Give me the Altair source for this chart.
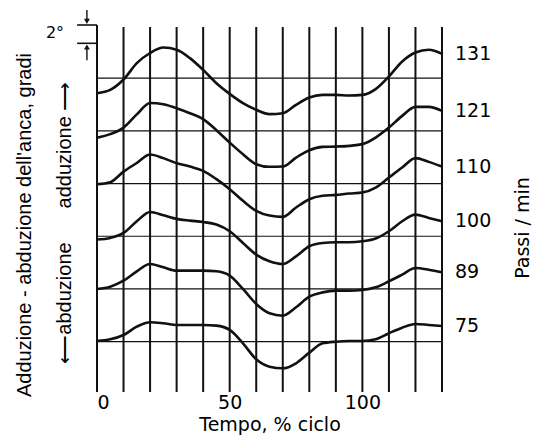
import altair as alt
import pandas as pd

# ---- data (degrees relative to each trace's baseline) ----
x_pct = [0, 5, 10, 15, 20, 25, 30, 35, 40, 45, 50, 55, 60, 65, 70, 75, 80, 85, 90, 95, 100, 105, 110, 115, 120, 125, 130]

cadences = [131, 121, 110, 100, 89, 75]

v131 = [-1.64, -1.28, -0.15, 1.64, 2.75, 3.35, 3.1, 2.19, 0.9, -0.55, -1.72, -2.73, -3.46, -3.93, -3.83, -2.92, -2.12, -1.83, -1.83, -1.9, -1.83, -1.2, 0.18, 1.82, 2.8, 3.1, 2.66]
v121 = [-0.75, -0.36, 0.35, 1.8, 3.05, 2.9, 2.48, 1.93, 1.28, 0.07, -1.28, -2.55, -3.64, -3.93, -3.9, -2.92, -2.11, -1.75, -1.72, -1.64, -1.45, -0.73, 0.36, 1.64, 2.62, 2.62, 2.19]
v110 = [-0.07, 0.15, 1.3, 2.25, 3.18, 2.78, 2.23, 1.86, 1.39, 0.48, -0.61, -1.89, -2.98, -3.5, -3.64, -2.62, -1.71, -1.34, -1.24, -1.09, -0.98, -0.44, 0.66, 1.75, 2.78, 2.37, 1.86]
v100 = [-0.36, -0.18, 0.36, 1.64, 2.66, 2.3, 1.9, 1.71, 1.56, 1.28, 0.55, -0.73, -2.0, -2.73, -3.03, -2.19, -1.09, -0.73, -0.66, -0.66, -0.55, -0.25, 0.55, 1.64, 2.37, 2.0, 1.64]
v89 = [0.0, 0.25, 0.9, 1.93, 2.73, 2.37, 2.0, 2.0, 2.0, 1.93, 1.46, 0.0, -1.64, -2.66, -2.92, -2.0, -0.84, -0.37, -0.18, -0.18, -0.11, 0.18, 0.84, 1.56, 2.3, 2.11, 1.82]
v75 = [0.08, 0.26, 0.73, 1.64, 2.12, 2.01, 1.83, 1.83, 1.83, 1.75, 1.28, -0.18, -1.92, -2.73, -2.91, -2.36, -1.2, -0.18, 0.0, 0.07, 0.07, 0.26, 0.92, 1.53, 1.93, 1.83, 1.72]

series = [v131, v121, v110, v100, v89, v75]

grid_x = list(range(0, 131, 10))
x_ticks = [0, 50, 100]

# ---- layout constants ----
SPACING = 5.76          # vertical offset between traces (degrees)
Y_MIN, Y_MAX = -5.5, 34.61
W, H = 345, 367
INK = "#111111"

rows = []
for i, (cad, vals) in enumerate(zip(cadences, series)):
    off = (len(cadences) - 1 - i) * SPACING
    for xv, v in zip(x_pct, vals):
        rows.append({"x": xv, "y": v + off, "cad": str(cad), "base": off})
df = pd.DataFrame(rows)

base_df = pd.DataFrame({"cad": [str(c) for c in cadences],
                        "base": [(len(cadences) - 1 - i) * SPACING for i in range(len(cadences))]})
end_df = df[df["x"] == x_pct[-1]].copy()

grid_df = pd.DataFrame({"x": grid_x,
                        "y1": [Y_MIN] * len(grid_x),
                        "y2": [Y_MAX if g == 0 else 34.39 for g in grid_x]})

xs = alt.Scale(domain=[0, 130], nice=False, zero=False)
ys = alt.Scale(domain=[Y_MIN, Y_MAX], nice=False, zero=False)

xaxis = alt.Axis(values=x_ticks, grid=False, domain=False, ticks=False, labelPadding=1,
                 labelFont="DejaVu Sans", labelFontSize=19, labelColor="black",
                 title="Tempo, % ciclo", titleFont="DejaVu Sans", titleFontSize=19,
                 titleFontWeight="normal", titleColor="black", titlePadding=3, labelAngle=0)

grid = alt.Chart(grid_df).mark_rule(color=INK, strokeWidth=2).encode(
    x=alt.X("x:Q", scale=xs, axis=xaxis),
    y=alt.Y("y1:Q", scale=ys, axis=None),
    y2="y2:Q",
)

baselines = alt.Chart(base_df).mark_rule(color=INK, strokeWidth=1.2).encode(
    x=alt.value(0), x2=alt.value(W),
    y=alt.Y("base:Q", scale=ys),
)

curves = alt.Chart(df).mark_line(color=INK, strokeWidth=2.6, interpolate="monotone").encode(
    x=alt.X("x:Q", scale=xs),
    y=alt.Y("y:Q", scale=ys),
    detail="cad:N",
)

end_labels = alt.Chart(end_df).mark_text(align="left", baseline="middle", dx=13,
                                         font="DejaVu Sans", fontSize=19, color="black").encode(
    x=alt.X("x:Q", scale=xs),
    y=alt.Y("y:Q", scale=ys),
    text="cad:N",
)

# ---- 2 degree scale bar ----
bar_df = pd.DataFrame({"x": [-7.5, -7.5], "x2": [0, 0], "y": [Y_MAX, Y_MAX - 2]})
scale_bar = alt.Chart(bar_df).mark_rule(color=INK, strokeWidth=1.6).encode(
    x=alt.X("x:Q", scale=xs), x2="x2:Q", y=alt.Y("y:Q", scale=ys))
shaft_df = pd.DataFrame({"x": [-3.8, -3.8], "y": [36.25, 32.2], "y2": [35.1, 30.75]})
shafts = alt.Chart(shaft_df).mark_rule(color=INK, strokeWidth=1.4).encode(
    x=alt.X("x:Q", scale=xs), y=alt.Y("y:Q", scale=ys), y2="y2:Q")
head_df = pd.DataFrame({"x": [-3.8, -3.8], "y": [35.0, 32.2], "shape": ["triangle-down", "triangle-up"]})
heads = alt.Chart(head_df).mark_point(filled=True, color=INK, size=35, opacity=1).encode(
    x=alt.X("x:Q", scale=xs), y=alt.Y("y:Q", scale=ys),
    shape=alt.Shape("shape:N", scale=None, legend=None))


def label(txt, px, py, size, angle=0, font="Liberation Sans"):
    return alt.Chart(pd.DataFrame({"t": [txt]})).mark_text(
        align="center", baseline="middle", angle=angle, font=font, fontSize=size, color="black"
    ).encode(x=alt.value(px), y=alt.value(py), text="t:N")


deg_lbl = label("2°", -42, 8, 16, font="DejaVu Sans")
ytitle = label("Adduzione - abduzione dell'anca, gradi", -72, 200, 20, angle=270)
abd = label("⟵abduzione", -32, 278, 20, angle=270)
add = label("adduzione ⟶", -32, 120, 20, angle=270)
passi = label("Passi / min", 426, 203, 19, angle=270, font="DejaVu Sans")

chart = alt.layer(grid, baselines, curves, end_labels, scale_bar, shafts, heads,
                  deg_lbl, ytitle, abd, add, passi).properties(
    width=W, height=H,
    autosize=alt.AutoSizeParams(type="none"),
    padding={"left": 89, "top": 17, "right": 95, "bottom": 50},
    background="white",
).configure_view(stroke=None)

chart.save("out.html", embed_options={"renderer": "svg", "actions": False})
